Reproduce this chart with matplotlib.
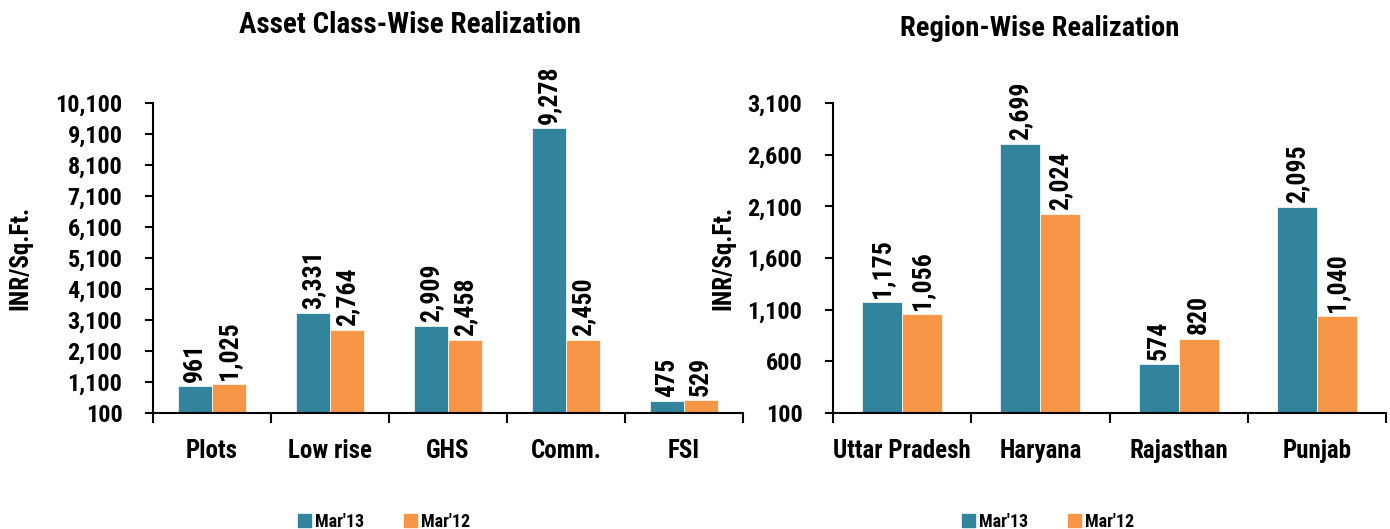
import matplotlib
matplotlib.use("Agg")
import matplotlib.pyplot as plt
from matplotlib.ticker import FuncFormatter, FixedLocator
from matplotlib.patches import Patch
import numpy as np

# data
asset_classes = ["Plots", "Low rise", "GHS", "Comm.", "FSI"]
asset_mar13 = [961, 3331, 2909, 9278, 475]
asset_mar12 = [1025, 2764, 2458, 2450, 529]

regions = ["Uttar Pradesh", "Haryana", "Rajasthan", "Punjab"]
region_mar13 = [1175, 2699, 574, 2095]
region_mar12 = [1056, 2024, 820, 1040]

series_names = ["Mar'13", "Mar'12"]
teal = "#31849B"
orange = "#F79646"

plt.rcParams["font.family"] = ["Roboto Condensed", "DejaVu Sans"]
plt.rcParams["font.weight"] = "bold"

W, H = 1390, 529
fig = plt.figure(figsize=(13.9, 5.29), dpi=100)
ax1 = fig.add_axes([153 / W, 1 - 413 / H, 590 / W, 310 / H])
ax2 = fig.add_axes([833 / W, 1 - 413 / H, 553 / W, 310 / H])

fmt = FuncFormatter(lambda v, p: f"{int(v):,}")


def draw(ax, cats, a, b, ymax, step, ylab_x, legend_x):
    x = np.arange(len(cats))
    w = 0.29
    ba = ax.bar(x - w / 2, a, w, color=teal, edgecolor="white", linewidth=0.5)
    bb = ax.bar(x + w / 2, b, w, color=orange, edgecolor="white", linewidth=0.5)
    for bars, vals in ((ba, a), (bb, b)):
        for r, v in zip(bars, vals):
            ax.annotate(f"{v:,}", (r.get_x() + r.get_width() / 2, v),
                        xytext=(0, 3), textcoords="offset points",
                        rotation=90, ha="center", va="bottom",
                        fontsize=18.5, fontweight="bold")
    ax.set_ylim(100, ymax)
    ax.set_xlim(-0.5, len(cats) - 0.5)
    ax.yaxis.set_major_locator(FixedLocator(np.arange(100, ymax + 1, step)))
    ax.yaxis.set_major_formatter(fmt)
    ax.set_xticks(x)
    ax.set_xticklabels(cats, fontsize=18, fontweight="bold")
    ax.tick_params(axis="x", length=0, pad=19)
    ax.set_xticks(np.arange(len(cats) + 1) - 0.5, minor=True)
    ax.tick_params(axis="x", which="minor", length=7, width=1.5, direction="out")
    ax.tick_params(axis="y", labelsize=17.5, length=6, width=1.5, pad=16)
    for lbl in ax.get_yticklabels():
        lbl.set_fontweight("bold")
    ax.spines["top"].set_visible(False)
    ax.spines["right"].set_visible(False)
    ax.spines["left"].set_linewidth(1.5)
    ax.spines["bottom"].set_linewidth(1.5)
    ax.set_ylabel("INR/Sq.Ft.", fontsize=18, fontweight="bold")
    ax.yaxis.set_label_coords(ylab_x, 0.5)
    handles = [Patch(color=teal), Patch(color=orange)]
    fig.legend(handles, series_names, loc="center",
               bbox_to_anchor=(legend_x / W, 1 - 522 / H), ncol=2,
               frameon=False, prop={"size": 13, "weight": "bold"},
               handlelength=0.75, handleheight=0.75, handletextpad=0.2,
               columnspacing=2.2, borderpad=0)


draw(ax1, asset_classes, asset_mar13, asset_mar12, 10100, 1000, -0.205, 384)
draw(ax2, regions, region_mar13, region_mar12, 3100, 500, -0.177, 1048)

fig.text(410 / W, 1 - 25 / H, "Asset Class-Wise Realization",
         ha="center", va="center", fontsize=21, fontweight="bold")
fig.text(1040 / W, 1 - 28 / H, "Region-Wise Realization",
         ha="center", va="center", fontsize=20.5, fontweight="bold")

fig.savefig("out.png", dpi=100)
